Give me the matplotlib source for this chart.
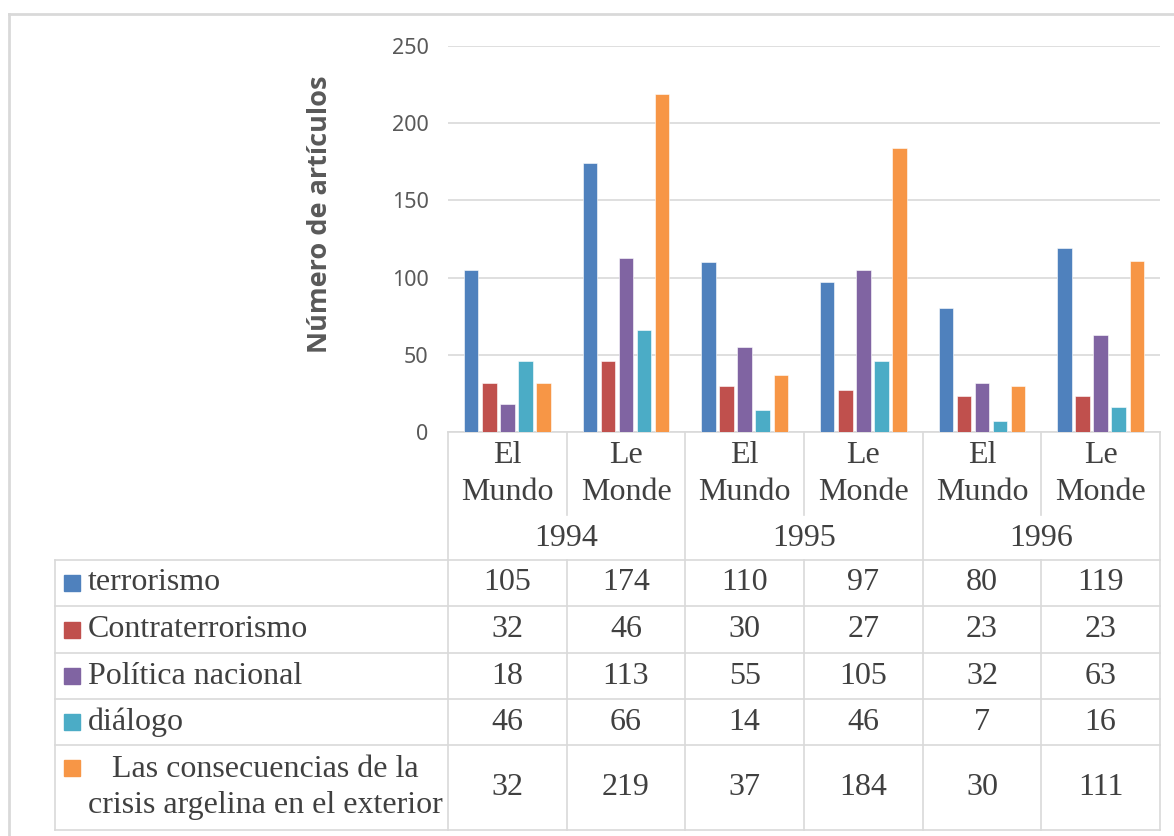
import numpy as np
import matplotlib.pyplot as plt
from matplotlib.patches import Rectangle

# ---------------- data ----------------
years = ["1994", "1995", "1996"]
papers = ["El\nMundo", "Le\nMonde"]
series = [
    "terrorismo",
    "Contraterrorismo",
    "Política nacional",
    "diálogo",
    "Las consecuencias de la\ncrisis argelina en el exterior",
]
terrorismo = [105, 174, 110, 97, 80, 119]
contraterrorismo = [32, 46, 30, 27, 23, 23]
politica = [18, 113, 55, 105, 32, 63]
dialogo = [46, 66, 14, 46, 7, 16]
consecuencias = [32, 219, 37, 184, 30, 111]
values = [terrorismo, contraterrorismo, politica, dialogo, consecuencias]
colors = ["#4F81BD", "#C0504D", "#8064A2", "#4BACC6", "#F79646"]
yticks = [0, 50, 100, 150, 200, 250]

# ---------------- layout (pixels) ----------------
W, H = 1174, 836
AX_L, AX_R, AX_T, AX_B = 448, 1160, 46, 432
TAB_L = 55
CAT_SEP = 515           # bottom of the paper labels
ROWS = [560, 606, 653, 699, 745, 830]
LINE = "#d9d9d9"
TXT = "#404040"
SERIF = "Liberation Serif"
FS = 23

fig = plt.figure(figsize=(W / 100, H / 100), dpi=100)

# bar chart
ax = fig.add_axes([AX_L / W, 1 - AX_B / H, (AX_R - AX_L) / W, (AX_B - AX_T) / H])
n_cat = len(terrorismo)
x = np.arange(n_cat)
step, bw = 0.152, 0.122
for i, (vals, c) in enumerate(zip(values, colors)):
    ax.bar(x + (i - 2) * step, vals, width=bw, color=c, edgecolor="white",
           linewidth=0.4, zorder=3)
ax.set_xlim(-0.5, n_cat - 0.5)
ax.set_ylim(0, 250)
ax.set_yticks(yticks)
ax.set_yticklabels([str(t) for t in yticks], family="Noto Sans", fontsize=15.5,
                   color="#595959")
ax.tick_params(axis="y", length=0, pad=14)
ax.set_xticks([])
ax.grid(axis="y", color=LINE, linewidth=1.2, zorder=0)
for s in ["left", "right", "top"]:
    ax.spines[s].set_visible(False)
ax.spines["bottom"].set_color(LINE)
ax.spines["bottom"].set_linewidth(1.2)
ax.set_ylabel("Número de artículos", family="Open Sans", fontweight="bold",
              fontsize=19.5, color="#595959")
ax.yaxis.set_label_coords(-(AX_L - 333) / (AX_R - AX_L), (AX_B - 214) / (AX_B - AX_T))

# overlay in pixel coordinates for the data table
ov = fig.add_axes([0, 0, 1, 1], zorder=-1)
ov.set_xlim(0, W)
ov.set_ylim(H, 0)
ov.axis("off")

# outer frame of the chart area
ov.plot([9, 9], [14, H], color=LINE, lw=2)
ov.plot([9, W], [14, 14], color=LINE, lw=2)

colw = (AX_R - AX_L) / n_cat
col_x = [AX_L + k * colw for k in range(n_cat + 1)]

# header: paper names and years
for k in range(n_cat):
    ov.text(col_x[k] + colw / 2, 474, papers[k % 2], ha="center", va="center",
            family=SERIF, fontsize=FS, color=TXT, linespacing=1.38)
for j, yr in enumerate(years):
    ov.text(col_x[2 * j + 1], 538, yr, ha="center", va="center",
            family=SERIF, fontsize=FS, color=TXT)

# vertical lines
for k, xc in enumerate(col_x):
    if k % 2 == 0:
        ov.plot([xc, xc], [AX_B, ROWS[-1]], color=LINE, lw=1.2)
    else:
        ov.plot([xc, xc], [AX_B, CAT_SEP], color=LINE, lw=1.2)
        ov.plot([xc, xc], [ROWS[0], ROWS[-1]], color=LINE, lw=1.2)
ov.plot([TAB_L, TAB_L], [ROWS[0], ROWS[-1]], color=LINE, lw=1.2)

# horizontal lines
for yr_ in ROWS:
    ov.plot([TAB_L, AX_R], [yr_, yr_], color=LINE, lw=1.2)

# data rows
for r, (name, vals, c) in enumerate(zip(series, values, colors)):
    y0, y1 = ROWS[r], ROWS[r + 1]
    yc = (y0 + y1) / 2
    if "\n" in name:
        ov.add_patch(Rectangle((64, 760), 16, 16, color=c))
        ov.text(88, yc, name, ha="left", va="center", multialignment="center",
                family=SERIF, fontsize=FS, color=TXT, linespacing=1.35)
    else:
        ov.add_patch(Rectangle((64, yc - 8), 16, 16, color=c))
        ov.text(88, yc, name, ha="left", va="center", family=SERIF,
                fontsize=FS, color=TXT)
    for k, v in enumerate(vals):
        ov.text(col_x[k] + colw / 2, yc, str(v), ha="center", va="center",
                family=SERIF, fontsize=FS, color=TXT)

fig.savefig("out.png", dpi=100)
